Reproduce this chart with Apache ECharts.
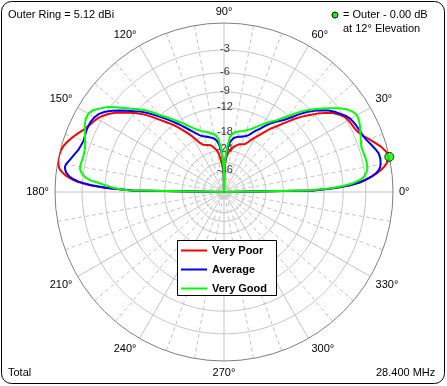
<!DOCTYPE html>
<html><head><meta charset="utf-8">
<script src="https://cdn.jsdelivr.net/npm/echarts@6/dist/echarts.min.js"></script>
<style>html,body{margin:0;padding:0;background:#fff}#c{width:447px;height:386px}</style>
</head><body><div id="c"></div>
<script>
// Elevation angle (deg, 0 = right horizon, 180 = left horizon)
const ELEV = [0,1,2,3,4,5,6,7,8,9,10,12,14,16,18,20,22,24,26,28,30,32,34,36,38,40,42,44,46,48,50,52,54,56,58,60,62,64,66,68,70,72,74,76,78,80,82,84,86,88,89,90,
  91,92,94,96,98,100,102,104,106,108,110,112,114,116,118,120,122,124,126,128,130,132,134,136,138,140,142,144,146,148,150,152,154,156,158,160,162,164,166,168,170,171,172,173,174,175,176,177,178,179,180];
// Gain relative to outer ring (dB)
const VERY_POOR = [-99,-11,-7.2,-5.2,-3.9,-3.0,-2.2,-1.6,-1.1,-0.7,-0.4,-0.05,-0.2,-0.55,-1.05,-1.55,-2.05,-2.4,-2.6,-2.7,-2.8,-3.0,-3.4,-3.95,-4.7,-5.6,-6.6,-7.6,-8.7,-10.0,-11.2,-12.3,-13.3,-14.6,-15.8,-16.8,-17.9,-19.0,-20.0,-20.4,-20.6,-20.8,-21.2,-21.8,-22.4,-23.0,-24.0,-25,-27,-31,-36,-99,
  -40,-35,-31,-28,-25,-23.6,-22.7,-22.0,-21.4,-21.1,-20.9,-20.7,-20.3,-19.5,-18.0,-16.5,-15.2,-13.9,-12.6,-11.5,-10.5,-9.4,-8.2,-7.1,-6.2,-5.4,-4.6,-3.9,-3.3,-2.8,-2.45,-2.2,-1.95,-1.65,-1.25,-0.85,-0.5,-0.2,-0.05,0,-0.05,-0.15,-0.3,-0.6,-1.0,-1.6,-2.4,-3.8,-6.0,-10.5,-99];
const AVERAGE = [-99,-11,-7.2,-5.0,-3.7,-2.9,-2.2,-1.7,-1.35,-1.15,-1.05,-0.95,-1.0,-1.25,-1.55,-1.85,-2.05,-2.15,-2.25,-2.35,-2.5,-2.8,-3.25,-3.65,-4.2,-4.9,-5.7,-6.6,-7.7,-8.9,-10.0,-10.8,-11.5,-12.3,-13.3,-14.3,-15.1,-16.0,-17.0,-17.6,-18.0,-18.3,-18.5,-18.7,-19.0,-19.4,-20.2,-21.5,-24,-29,-34,-99,
  -34,-29,-24,-21.6,-20.3,-19.6,-19.2,-18.9,-18.6,-18.3,-18.0,-17.6,-17.0,-16.2,-15.3,-14.4,-13.4,-12.4,-11.4,-10.4,-9.4,-8.4,-7.4,-6.5,-5.8,-5.0,-4.2,-3.45,-2.8,-2.35,-2.1,-1.98,-1.95,-1.97,-2.05,-2.1,-2.0,-1.85,-1.55,-1.25,-0.9,-0.83,-0.9,-1.05,-1.35,-1.8,-2.6,-4.0,-6.3,-10.5,-99];
const VERY_GOOD = [-99,-12,-7.8,-5.8,-4.5,-3.7,-3.2,-2.95,-2.75,-2.62,-2.57,-2.55,-2.58,-2.65,-2.68,-2.55,-2.35,-2.15,-1.9,-1.72,-1.65,-1.85,-2.3,-2.95,-3.7,-4.5,-5.3,-6.1,-7.05,-8.1,-9.2,-10.2,-11.1,-11.8,-12.5,-13.2,-13.9,-14.6,-15.3,-15.8,-16.2,-16.6,-16.9,-17.1,-17.3,-17.7,-18.2,-19.2,-23,-29,-34,-99,
  -34,-29,-23,-19.8,-18.7,-18.2,-17.8,-17.4,-17.1,-16.8,-16.5,-16.0,-15.5,-14.8,-14.1,-13.2,-12.4,-11.6,-10.7,-9.8,-8.9,-7.8,-6.8,-6.0,-5.25,-4.4,-3.5,-2.7,-2.1,-1.55,-1.3,-1.32,-1.5,-1.8,-2.05,-2.3,-2.5,-2.6,-2.62,-2.55,-2.5,-2.55,-2.7,-2.95,-3.3,-4.0,-5.2,-6.3,-7.5,-9.5,-99];
const SERIES_NAMES = ['Very Poor','Average','Very Good'];
const RING_DB = [-3,-6,-9,-12,-18,-24,-30,-36];
const RING_LABEL_DB = [-3,-6,-9,-12,-18,-24,-36];
const MAX_ELEV = 12;
const MAX_DB = 0;

// ARRL log scale: radius factor 0.89 per 2 dB
function toR(db){ return Math.pow(0.89, -db/2); }
function pts(vals){ return vals.map((v,i)=>[toR(v), ELEV[i]]); }

const FONT = 'Arial, "Liberation Sans", sans-serif';
const series = [];
RING_DB.forEach(db=>{
  const d=[]; for(let a=0;a<=360;a+=2) d.push([toR(db),a]);
  series.push({type:'line',coordinateSystem:'polar',data:d,showSymbol:false,silent:true,z:1,
    lineStyle:{color:'#c4c4c4',width:1},animation:false});
});
series.push({type:'scatter',coordinateSystem:'polar',silent:true,z:2,symbolSize:1,
  itemStyle:{color:'rgba(0,0,0,0)'},
  data:RING_LABEL_DB.map(db=>({value:[toR(db),90],name:String(db)})),
  label:{show:true,position:'inside',formatter:p=>p.name,color:'#000',fontSize:11,fontFamily:FONT,offset:[1,-1]},
  animation:false});
const colors=['#ff0000','#0000ff','#00ff00'];
[VERY_POOR,AVERAGE,VERY_GOOD].forEach((vals,i)=>{
  series.push({name:SERIES_NAMES[i],type:'line',coordinateSystem:'polar',data:pts(vals),showSymbol:false,
    smooth:false,z:3+i,lineStyle:{color:colors[i],width:2},itemStyle:{color:colors[i]},animation:false});
});
series.push({type:'scatter',coordinateSystem:'polar',z:10,symbolSize:9,data:[[toR(MAX_DB),MAX_ELEV]],
  itemStyle:{color:'#00ff00',borderColor:'#000',borderWidth:1},animation:false});

const chart = echarts.init(document.getElementById('c'),null,{renderer:'canvas'});
chart.setOption({
  backgroundColor:'#fff',
  animation:false,
  polar:{center:[224,192],radius:169},
  angleAxis:{type:'value',min:0,max:360,interval:30,startAngle:0,clockwise:false,
    axisLine:{lineStyle:{color:'#808080',width:1}},
    axisTick:{show:false},
    axisLabel:{margin:6,color:'#000',fontSize:11,fontFamily:FONT,formatter:v=>v>=360?'':v+'°'},
    splitLine:{show:true,lineStyle:{color:'#c4c4c4',width:1}},
    minorTick:{show:false,splitNumber:3},
    minorSplitLine:{show:true,lineStyle:{color:'#c4c4c4',width:1,type:[4,3]}}
  },
  radiusAxis:{type:'value',min:0,max:1,axisLine:{show:false},axisTick:{show:false},axisLabel:{show:false},splitLine:{show:false}},
  legend:{data:SERIES_NAMES,orient:'vertical',left:181,top:245,padding:0,itemGap:8,itemWidth:26,itemHeight:2,icon:'rect',
    textStyle:{color:'#000',fontSize:11,fontWeight:'bold',fontFamily:FONT},z:20},
  graphic:[
    {type:'rect',z:0,silent:true,shape:{x:1.5,y:1.5,width:443,height:382,r:10},style:{fill:'none',stroke:'#000',lineWidth:1}},
    {type:'rect',z:15,silent:true,shape:{x:177.5,y:240.5,width:99,height:55},style:{fill:'#fff',stroke:'#000',lineWidth:1}},
    {type:'text',z:20,left:8,top:9,style:{text:'Outer Ring = 5.12 dBi',fill:'#000',font:'11px '+FONT}},
    {type:'circle',z:20,shape:{cx:335,cy:15,r:3},style:{fill:'#00ff00',stroke:'#000',lineWidth:1}},
    {type:'text',z:20,left:343,top:9,style:{text:'= Outer - 0.00 dB',fill:'#000',font:'11px '+FONT}},
    {type:'text',z:20,left:343,top:23,style:{text:'at 12° Elevation',fill:'#000',font:'11px '+FONT}},
    {type:'text',z:20,left:8,top:367,style:{text:'Total',fill:'#000',font:'11px '+FONT}},
    {type:'text',z:20,left:376,top:367,style:{text:'28.400 MHz',fill:'#000',font:'11px '+FONT}}
  ],
  series:series
});
</script></body></html>
